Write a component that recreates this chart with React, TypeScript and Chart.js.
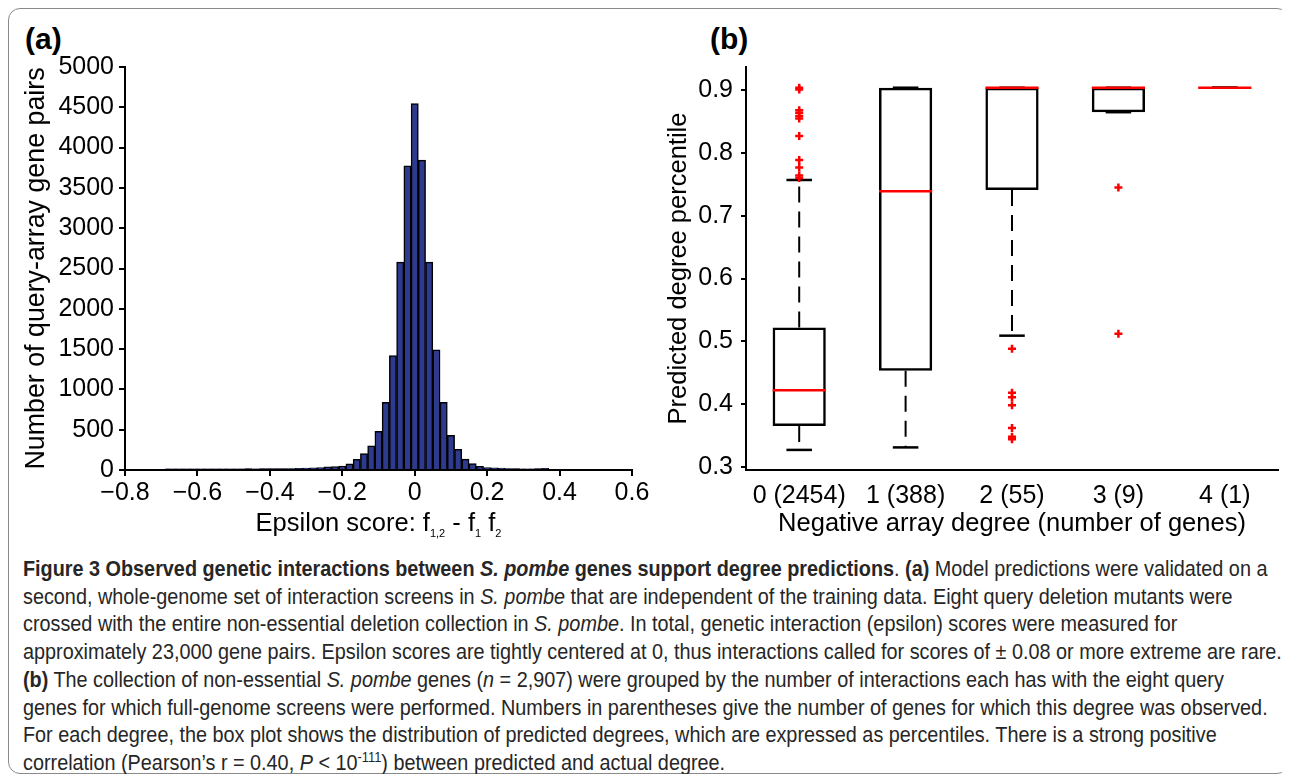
import React, { useEffect, useLayoutEffect, useRef } from 'react';
import { Chart, registerables } from 'chart.js';

Chart.register(...registerables);

const FONT = "'Liberation Sans', Arial, Helvetica, sans-serif";
const CAPTION_FONT = "'Liberation Sans', Arial, sans-serif";

// ---------- Panel (a): histogram of epsilon scores ----------
const binCenters = [
  -0.68, -0.66, -0.64, -0.62, -0.6, -0.58, -0.56, -0.54, -0.52, -0.5,
  -0.48, -0.46, -0.44, -0.42, -0.4, -0.38, -0.36, -0.34, -0.32, -0.3,
  -0.28, -0.26, -0.24, -0.22, -0.2, -0.18, -0.16, -0.14, -0.12, -0.1,
  -0.08, -0.06, -0.04, -0.02, 0, 0.02, 0.04, 0.06, 0.08, 0.1,
  0.12, 0.14, 0.16, 0.18, 0.2, 0.22, 0.24, 0.26, 0.28, 0.3,
  0.32, 0.34, 0.36,
];
const binCounts = [
  14, 15, 15, 15, 15, 16, 15, 16, 16, 16,
  16, 17, 16, 17, 17, 18, 18, 19, 22, 24,
  26, 30, 38, 42, 50, 76, 132, 205, 300, 480,
  840, 1420, 2580, 3775, 4545, 3845, 2580, 1490, 840, 430,
  255, 135, 80, 45, 30, 26, 24, 18, 17, 16,
  16, 17, 20,
];
const histXTicks = [-0.8, -0.6, -0.4, -0.2, 0, 0.2, 0.4, 0.6];
const histXLabels = ['\u22120.8', '\u22120.6', '\u22120.4', '\u22120.2', '0', '0.2', '0.4', '0.6'];
const histYTicks = [0, 500, 1000, 1500, 2000, 2500, 3000, 3500, 4000, 4500, 5000];
const histYLabels = ['0', '500', '1000', '1500', '2000', '2500', '3000', '3500', '4000', '4500', '5000'];
const histXTitleRuns = [
  { text: 'Epsilon score: f', sub: false },
  { text: '1,2', sub: true },
  { text: ' - f', sub: false },
  { text: '1', sub: true },
  { text: ' f', sub: false },
  { text: '2', sub: true },
];

// ---------- Panel (b): box plot of predicted degree percentile ----------
const degreePositions = [0, 1, 2, 3, 4];
const degreeLabels = ['0 (2454)', '1 (388)', '2 (55)', '3 (9)', '4 (1)'];
const boxQ1 = [0.365, 0.453, 0.741, 0.865, 0.904];
const boxMedian = [0.422, 0.739, 0.904, 0.904, 0.904];
const boxQ3 = [0.522, 0.904, 0.904, 0.904, 0.904];
const whiskerLow = [0.327, 0.331, 0.509, 0.865, 0.904];
const whiskerHigh = [0.757, 0.904, 0.904, 0.904, 0.904];
const outliersDeg0 = [0.904, 0.901, 0.868, 0.864, 0.859, 0.855, 0.827, 0.789, 0.777, 0.764, 0.76];
const outliersDeg1: number[] = [];
const outliersDeg2 = [0.488, 0.418, 0.411, 0.398, 0.362, 0.348, 0.344];
const outliersDeg3 = [0.745, 0.512];
const outliersDeg4: number[] = [];
const boxYTicks = [0.3, 0.4, 0.5, 0.6, 0.7, 0.8, 0.9];
const boxYLabels = ['0.3', '0.4', '0.5', '0.6', '0.7', '0.8', '0.9'];

const subTitlePlugin = {
  id: 'subTitle',
  afterDraw(chart: any, _args: any, opts: any) {
    const { ctx, chartArea } = chart;
    const runs = opts.runs as { text: string; sub: boolean }[];
    ctx.save();
    ctx.fillStyle = '#000';
    ctx.textBaseline = 'alphabetic';
    const mainFont = `${opts.size}px ${FONT}`;
    const subFont = `${opts.subSize}px ${FONT}`;
    const widths = runs.map((r) => {
      ctx.font = r.sub ? subFont : mainFont;
      return ctx.measureText(r.text).width;
    });
    const total = widths.reduce((a, b) => a + b, 0);
    let x = (chartArea.left + chartArea.right) / 2 + opts.shiftX - total / 2;
    const y = chartArea.bottom + opts.baselineOffset;
    runs.forEach((r, i) => {
      ctx.font = r.sub ? subFont : mainFont;
      ctx.fillText(r.text, x, r.sub ? y + opts.subDrop : y);
      x += widths[i];
    });
    ctx.restore();
  },
};

function HistogramChart() {
  const ref = useRef<HTMLCanvasElement>(null);
  useEffect(() => {
    const chart = new Chart(ref.current as HTMLCanvasElement, {
      type: 'bar',
      data: {
        datasets: [
          {
            data: binCenters.map((x, i) => ({ x, y: binCounts[i] })),
            backgroundColor: '#2D3A8E',
            borderColor: '#000000',
            borderWidth: 1.5,
            barPercentage: 1,
            categoryPercentage: 1,
          },
        ],
      },
      options: {
        animation: false,
        responsive: false,
        maintainAspectRatio: false,
        layout: { padding: { top: 0, right: 28, bottom: 0, left: 0 } },
        plugins: {
          legend: { display: false },
          tooltip: { enabled: false },
          subTitle: { runs: histXTitleRuns, size: 25.5, subSize: 11, subDrop: 6, baselineOffset: 61, shiftX: 0 },
        },
        scales: {
          x: {
            type: 'linear',
            min: -0.8,
            max: 0.6,
            offset: false,
            grid: { drawOnChartArea: false, drawTicks: true, tickLength: 6, color: '#000', lineWidth: 2, offset: false },
            border: { display: true, color: '#000', width: 2 },
            ticks: {
              color: '#000',
              font: { family: FONT, size: 25 },
              padding: 2,
              maxRotation: 0,
              autoSkip: false,
              callback: (_v: any, i: number) => histXLabels[i],
            },
            afterBuildTicks: (s: any) => {
              s.ticks = histXTicks.map((value) => ({ value }));
            },
            afterFit: (s: any) => {
              s.height = 75;
            },
          },
          y: {
            type: 'linear',
            min: 0,
            max: 5000,
            grid: { drawOnChartArea: false, drawTicks: true, tickLength: 6, color: '#000', lineWidth: 2 },
            border: { display: true, color: '#000', width: 2 },
            ticks: {
              color: '#000',
              font: { family: FONT, size: 25 },
              padding: 5,
              autoSkip: false,
              callback: (_v: any, i: number) => histYLabels[i],
            },
            afterBuildTicks: (s: any) => {
              s.ticks = histYTicks.map((value) => ({ value }));
            },
            title: {
              display: true,
              text: 'Number of query-array gene pairs',
              color: '#000',
              font: { family: FONT, size: 26.8 },
              padding: { top: 1, bottom: 0 },
            },
            afterFit: (s: any) => {
              s.width = 105;
            },
          },
        },
      } as any,
      plugins: [subTitlePlugin as any],
    });
    return () => chart.destroy();
  }, []);
  // chart area top = canvas top + 15 (half label) + 5 (tick padding)
  return <canvas ref={ref} width={640} height={498} style={{ position: 'absolute', left: 12, top: 39 }} />;
}

function BoxPlotChart() {
  const ref = useRef<HTMLCanvasElement>(null);
  useEffect(() => {
    const outlierGroups = [outliersDeg0, outliersDeg1, outliersDeg2, outliersDeg3, outliersDeg4];
    const medianSets = degreePositions.map((p, i) => ({
      type: 'line',
      data: [
        { x: p - 0.25, y: boxMedian[i] },
        { x: p + 0.25, y: boxMedian[i] },
      ],
      borderColor: '#FF0000',
      borderWidth: 2.5,
      pointRadius: 0,
      order: 0,
    }));
    const outlierSet = {
      type: 'scatter',
      data: outlierGroups.flatMap((g, i) => g.map((y) => ({ x: degreePositions[i], y }))),
      pointStyle: 'cross',
      pointRadius: 4,
      borderColor: '#FF0000',
      backgroundColor: '#FF0000',
      borderWidth: 2.5,
      order: 0,
    };
    const capSets = degreePositions.flatMap((p, i) =>
      [whiskerLow[i], whiskerHigh[i]].map((w) => ({
        type: 'line',
        data: [
          { x: p - 0.12, y: w },
          { x: p + 0.12, y: w },
        ],
        borderColor: '#000',
        borderWidth: 2.5,
        pointRadius: 0,
        order: 1,
      }))
    );
    const whiskerSets = degreePositions.flatMap((p, i) => [
      {
        type: 'line',
        data: [
          { x: p, y: boxQ3[i] },
          { x: p, y: whiskerHigh[i] },
        ],
        borderColor: '#000',
        borderWidth: 2,
        borderDash: [16, 9],
        pointRadius: 0,
        order: 2,
      },
      {
        type: 'line',
        data: [
          { x: p, y: boxQ1[i] },
          { x: p, y: whiskerLow[i] },
        ],
        borderColor: '#000',
        borderWidth: 2,
        borderDash: [16, 9],
        pointRadius: 0,
        order: 2,
      },
    ]);
    const boxSet = {
      type: 'bar',
      data: degreePositions.map((p, i) => ({ x: p, y: [boxQ1[i], boxQ3[i]] })),
      backgroundColor: 'rgba(0,0,0,0)',
      borderColor: '#000',
      borderWidth: 2.5,
      borderSkipped: false,
      barPercentage: 0.5,
      categoryPercentage: 1,
      order: 3,
    };
    const chart = new Chart(ref.current as HTMLCanvasElement, {
      type: 'bar',
      data: { datasets: [...medianSets, outlierSet, ...capSets, ...whiskerSets, boxSet] as any },
      options: {
        animation: false,
        responsive: false,
        maintainAspectRatio: false,
        layout: { padding: { top: 0, right: 12, bottom: 0, left: 0 } },
        plugins: { legend: { display: false }, tooltip: { enabled: false } },
        scales: {
          x: {
            type: 'linear',
            min: -0.5,
            max: 4.5,
            offset: false,
            grid: { display: false, offset: false },
            border: { display: true, color: '#000', width: 2 },
            ticks: {
              color: '#000',
              font: { family: FONT, size: 25 },
              padding: 3,
              maxRotation: 0,
              autoSkip: false,
              callback: (_v: any, i: number) => degreeLabels[i],
            },
            afterBuildTicks: (s: any) => {
              s.ticks = degreePositions.map((value) => ({ value }));
            },
            title: {
              display: true,
              text: 'Negative array degree (number of genes)',
              color: '#000',
              font: { family: FONT, size: 25.5 },
              padding: { top: 0, bottom: 6 },
            },
            afterFit: (s: any) => {
              s.height = 75;
            },
          },
          y: {
            type: 'linear',
            min: 0.295,
            max: 0.937,
            grid: { drawOnChartArea: false, drawTicks: true, tickLength: 5, color: '#000', lineWidth: 2 },
            border: { display: true, color: '#000', width: 2 },
            ticks: {
              color: '#000',
              font: { family: FONT, size: 25 },
              padding: 8,
              autoSkip: false,
              callback: (_v: any, i: number) => boxYLabels[i],
            },
            afterBuildTicks: (s: any) => {
              s.ticks = boxYTicks.map((value) => ({ value }));
            },
            title: {
              display: true,
              text: 'Predicted degree percentile',
              color: '#000',
              font: { family: FONT, size: 25.5 },
              padding: { top: 3.7, bottom: 0 },
            },
            afterFit: (s: any) => {
              s.width = 86;
            },
          },
        },
      } as any,
    });
    return () => chart.destroy();
  }, []);
  // chart area top = canvas top + 15 (half label) + 8 (tick padding)
  return <canvas ref={ref} width={630} height={501} style={{ position: 'absolute', left: 652, top: 36 }} />;
}

const panelLabel: React.CSSProperties = {
  position: 'absolute',
  fontFamily: FONT,
  fontWeight: 'bold',
  fontSize: 30,
  lineHeight: '30px',
  color: '#000',
};

function Caption() {
  const ref = useRef<HTMLDivElement>(null);
  useLayoutEffect(() => {
    const el = ref.current;
    if (!el) return;
    const w = el.offsetWidth;
    if (w > 0) el.style.transform = `scaleX(${1259 / w})`;
  }, []);
  const i = (t: string) => <i>{t}</i>;
  return (
    <div
      ref={ref}
      style={{
        position: 'absolute',
        left: 15,
        top: 548,
        fontFamily: CAPTION_FONT,
        fontSize: 21.5,
        lineHeight: '27.7px',
        color: '#262626',
        whiteSpace: 'nowrap',
        transformOrigin: 'left top',
      }}
    >
      <div>
        <b>Figure 3 Observed genetic interactions between {i('S. pombe')} genes support degree predictions</b>.{' '}
        <b>(a)</b> Model predictions were validated on a
      </div>
      <div>
        second, whole-genome set of interaction screens in {i('S. pombe')} that are independent of the training data.
        Eight query deletion mutants were
      </div>
      <div>
        crossed with the entire non-essential deletion collection in {i('S. pombe')}. In total, genetic interaction
        (epsilon) scores were measured for
      </div>
      <div>
        approximately 23,000 gene pairs. Epsilon scores are tightly centered at 0, thus interactions called for scores of
        ± 0.08 or more extreme are rare.
      </div>
      <div>
        <b>(b)</b> The collection of non-essential {i('S. pombe')} genes ({i('n')} = 2,907) were grouped by the number of
        interactions each has with the eight query
      </div>
      <div>
        genes for which full-genome screens were performed. Numbers in parentheses give the number of genes for which
        this degree was observed.
      </div>
      <div>
        For each degree, the box plot shows the distribution of predicted degrees, which are expressed as percentiles.
        There is a strong positive
      </div>
      <div>
        correlation (Pearson’s r = 0.40, {i('P')} &lt; 10<sup style={{ fontSize: '0.65em', lineHeight: 0 }}>-111</sup>)
        between predicted and actual degree.
      </div>
    </div>
  );
}

export default function App() {
  useEffect(() => {
    document.documentElement.style.overflow = 'hidden';
  }, []);
  return (
    <div style={{ position: 'relative', width: 1282, height: 766, background: '#fff' }}>
      <div
        style={{
          position: 'absolute',
          left: 0,
          top: 0,
          width: 1281,
          height: 766,
          boxSizing: 'border-box',
          border: '1.5px solid #8a8a8a',
          borderRadius: 12,
        }}
      />
      <div style={{ ...panelLabel, left: 17, top: 16 }}>(a)</div>
      <div style={{ ...panelLabel, left: 702, top: 16 }}>(b)</div>
      <HistogramChart />
      <BoxPlotChart />
      <Caption />
    </div>
  );
}
